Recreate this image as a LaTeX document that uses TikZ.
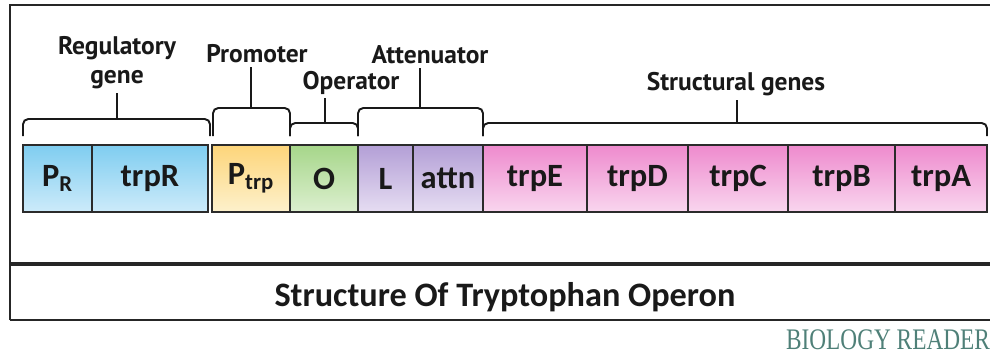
\documentclass[tikz,border=0pt]{standalone}
\usepackage{fontspec}
\setmainfont{Carlito}
\newfontfamily\lblfont{PT Sans}
\newfontfamily\logofont{Liberation Serif}
\usetikzlibrary{positioning}
\definecolor{edgegray}{HTML}{2B2B2B}
\definecolor{blueTop}{HTML}{7FCDF0}
\definecolor{blueBot}{HTML}{CDEBFA}
\definecolor{yelTop}{HTML}{FDD57A}
\definecolor{yelBot}{HTML}{FDF1CC}
\definecolor{grnTop}{HTML}{A6D68A}
\definecolor{grnBot}{HTML}{DCEFCF}
\definecolor{purTop}{HTML}{B39FD6}
\definecolor{purBot}{HTML}{E6DDF2}
\definecolor{pnkTop}{HTML}{EE8ACD}
\definecolor{pnkBot}{HTML}{F9D6EF}
\definecolor{logocol}{HTML}{4F8078}

\begin{document}
\begin{tikzpicture}[x=0.02cm, y=-0.02cm,
  gene/.style={draw=edgegray, line width=0.9pt, inner sep=0pt, outer sep=0pt,
     minimum height=1.34cm, font=\fontsize{18.5}{20}\selectfont\bfseries, text=black!90},
  bracket/.style={line width=1.1pt, rounded corners=3pt, black!90},
  lbl/.style={font=\lblfont\fontsize{14.5}{16.5}\selectfont\bfseries, align=center, inner sep=2pt, text=black!90},
  frame/.style={line width=1pt, black!85}]
\useasboundingbox (0,0) rectangle (990,356);

% frame
\draw[frame] (10,320) -- (10,5) -- (1000,5);
\draw[frame, line width=2pt] (10,264) -- (1000,264);
\draw[frame] (10,320) -- (1000,320);

% gene boxes
\node[gene, minimum width=1.38cm, top color=blueTop, bottom color=blueBot] at (57.5,178.5) (pr) {P\textsubscript{R}};
\node[gene, minimum width=2.32cm, top color=blueTop, bottom color=blueBot] at (150,178.5) (trpR) {trpR};
\node[gene, minimum width=1.56cm, top color=yelTop, bottom color=yelBot] at (251,178.5) (ptrp) {P\textsubscript{trp}};
\node[gene, minimum width=1.36cm, top color=grnTop, bottom color=grnBot] at (324,178.5) (op) {O};
\node[gene, minimum width=1.10cm, top color=purTop, bottom color=purBot] at (385.5,178.5) (lead) {L};
\node[gene, minimum width=1.40cm, top color=purTop, bottom color=purBot] at (448,178.5) (attn) {attn};
\node[gene, minimum width=2.08cm, top color=pnkTop, bottom color=pnkBot] at (535,178.5) (trpE) {trpE};
\node[gene, minimum width=2.02cm, top color=pnkTop, bottom color=pnkBot] at (637.5,178.5) (trpD) {trpD};
\node[gene, minimum width=2.00cm, top color=pnkTop, bottom color=pnkBot] at (738,178.5) (trpC) {trpC};
\node[gene, minimum width=2.14cm, top color=pnkTop, bottom color=pnkBot] at (841.5,178.5) (trpB) {trpB};
\node[gene, minimum width=1.84cm, top color=pnkTop, bottom color=pnkBot] at (941,178.5) (trpA) {trpA};

% labels
\node[lbl, anchor=south] at (117,93) (reglbl) {Regulatory\\gene};
\node[lbl, anchor=south] at (257,67) (prolbl) {Promoter};
\node[lbl, anchor=south] at (351,98) (oplbl) {Operator};
\node[lbl, anchor=south] at (430,68) (attlbl) {Attenuator};
\node[lbl, anchor=south] at (736,100) (strlbl) {Structural genes};

% brackets
\draw[bracket] (23,136) -- (23,119) -- (210,119) -- (210,136);
\coordinate (regmid) at (117,119);
\draw[bracket] (regmid) -- (reglbl.south);
\draw[bracket] (213,136) -- (213,108) -- (290,108) -- (290,136);
\coordinate (promid) at (251,108);
\draw[bracket] (promid) -- (promid |- prolbl.south);
\draw[bracket] (290,136) -- (290,123) -- (358,123) -- (358,136);
\coordinate (opmid) at (325,123);
\draw[bracket] (opmid) -- (opmid |- oplbl.south);
\draw[bracket] (358,136) -- (358,108) -- (483,108) -- (483,136);
\coordinate (attmid) at (420,108);
\draw[bracket] (attmid) -- (attmid |- attlbl.south);
\draw[bracket] (483,136) -- (483,123) -- (987,123) -- (987,136);
\coordinate (strmid) at (737,123);
\draw[bracket] (strmid) -- (strmid |- strlbl.south);

% title
\node[font=\fontsize{19.5}{22}\selectfont\bfseries, text=black!90] at (505,297) (title) {Structure Of Tryptophan Operon};
\node[font=\logofont\fontsize{17}{20}\selectfont, text=logocol, xscale=0.78, transform shape] at (888,340) (logo) {BIOLOGY READER};
\end{tikzpicture}
\end{document}
